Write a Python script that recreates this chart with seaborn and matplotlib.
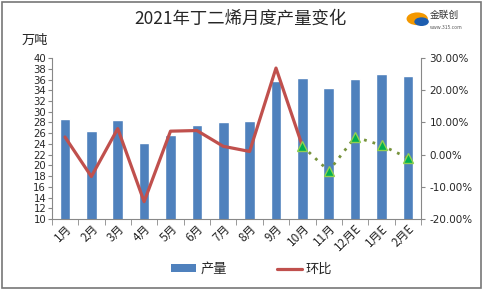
import numpy as np
import pandas as pd
import matplotlib
matplotlib.use("Agg")
import matplotlib.pyplot as plt
import seaborn as sns
from matplotlib.patches import Rectangle, Patch
from matplotlib.lines import Line2D
from matplotlib.ticker import FuncFormatter

months = ["1月", "2月", "3月", "4月", "5月", "6月", "7月", "8月", "9月", "10月", "11月", "12月E", "1月E", "2月E"]
production = [28.6, 26.5, 28.4, 24.1, 25.7, 27.5, 28.0, 28.3, 35.8, 36.2, 34.4, 36.1, 37.1, 36.6]
mom_actual = [5.5, -6.8, 8.1, -14.6, 7.3, 7.5, 2.6, 1.0, 26.9, 2.7]          # 1月..10月 (%)
mom_forecast = [2.7, -5.1, 5.5, 2.9, -1.0]                                     # 10月..2月E (%)
left_ticks = list(range(10, 41, 2))
right_ticks = [-20, -10, 0, 10, 20, 30]

sns.set_style("white")
plt.rcParams['font.family'] = ['Noto Sans CJK SC', 'DejaVu Sans']

fig = plt.figure(figsize=(4.84, 2.89), dpi=100)
ax = fig.add_axes([0.107, 0.242, 0.763, 0.557])

df = pd.DataFrame({"month": months, "production": production})
sns.barplot(data=df, x="month", y="production", color="#4F81BD", width=0.4,
            saturation=1, ax=ax)

ax.set_ylim(10, 40)
ax.set_yticks(left_ticks)
for lab in ax.get_yticklabels():
    lab.set_fontfamily("DejaVu Sans")
ax.set_xlim(-0.5, len(months) - 0.5)
ax.set_xlabel("")
ax.set_ylabel("")
ax.tick_params(axis="y", labelsize=7.3, length=3, color="#888888", pad=1, direction="out", left=True)
ax.tick_params(axis="x", which="major", length=0, labelsize=8.5, pad=2)
ax.set_xticks(np.arange(len(months)))
ax.set_xticklabels(months, rotation=45, ha="right", rotation_mode="anchor")
ax.set_xticks(np.arange(len(months) + 1) - 0.5, minor=True)
ax.tick_params(axis="x", which="minor", length=4, color="#888888", bottom=True, direction="out")
for s in ["top", "right"]:
    ax.spines[s].set_visible(False)
for s in ["left", "bottom"]:
    ax.spines[s].set_color("#888888")
    ax.spines[s].set_linewidth(0.8)

ax2 = ax.twinx()
x_act = np.arange(len(mom_actual))
x_fc = np.arange(len(mom_actual) - 1, len(months))
sns.lineplot(x=x_act, y=mom_actual, ax=ax2, color="#C0504D", linewidth=2.3)
sns.lineplot(x=x_fc, y=mom_forecast, ax=ax2, color="#77933C", linewidth=2,
             linestyle=(0, (1, 2.2)), marker="^", markersize=7,
             markerfacecolor="#00B050", markeredgecolor="#92D050", markeredgewidth=1)
ax2.set_ylim(-20, 30)
ax2.set_yticks(right_ticks)
ax2.yaxis.set_major_formatter(FuncFormatter(lambda v, p: f"{v:.2f}%"))
ax2.tick_params(axis="y", labelsize=7.5, length=3, color="#888888", pad=3, direction="out", right=True)
for lab in ax2.get_yticklabels():
    lab.set_fontfamily("DejaVu Sans")
ax2.set_ylabel("")
for s in ["top", "left", "bottom"]:
    ax2.spines[s].set_visible(False)
ax2.spines["right"].set_color("#888888")
ax2.spines["right"].set_linewidth(0.8)
ax2.set_xlim(-0.5, len(months) - 0.5)

fig.text(0.497, 0.935, "2021年丁二烯月度产量变化", ha="center", va="center", fontsize=12.5)
fig.text(0.045, 0.86, "万吨", ha="left", va="center", fontsize=9.5)

# logo
fig.text(0.888, 0.95, "金联创", ha="left", va="center", fontsize=7, color="#333333")
fig.text(0.888, 0.905, "www.315.com", ha="left", va="center", fontsize=3.5, color="#555555")
fig.patches.append(plt.Circle((0.862, 0.935), 0.022, transform=fig.transFigure,
                              facecolor="#F39800", edgecolor="none", figure=fig))
fig.patches.append(plt.Circle((0.871, 0.925), 0.015, transform=fig.transFigure,
                              facecolor="#1D5EB0", edgecolor="none", figure=fig))

handles = [Patch(facecolor="#4F81BD", edgecolor="none"),
           Line2D([0], [0], color="#C0504D", linewidth=2.3)]
fig.legend(handles, ["产量", "环比"], loc="center", bbox_to_anchor=(0.52, 0.068), ncol=2,
           frameon=False, fontsize=9.5, handlelength=1.9, handleheight=0.55,
           columnspacing=3.8, handletextpad=0.3)

fig.patches.append(Rectangle((0.004, 0.004), 0.99, 0.99, transform=fig.transFigure,
                             fill=False, edgecolor="#777777", linewidth=1.2, figure=fig))

fig.savefig("out.png", dpi=100)
